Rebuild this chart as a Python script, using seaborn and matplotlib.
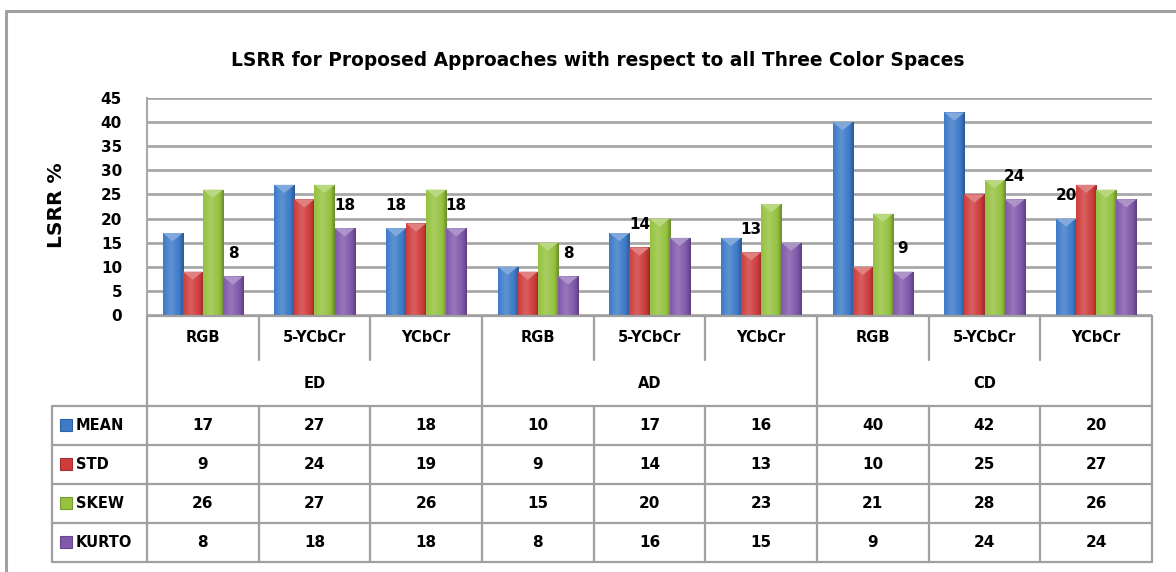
import numpy as np
import pandas as pd
import matplotlib
matplotlib.use("Agg")
import matplotlib.pyplot as plt
import seaborn as sns
from matplotlib.lines import Line2D
from matplotlib.patches import Rectangle, Polygon
import matplotlib.colors as mcolors

# ---------------- data ----------------
title = "LSRR for Proposed Approaches with respect to all Three Color Spaces"
ylabel = "LSRR %"
groups = ["ED", "AD", "CD"]
spaces = ["RGB", "5-YCbCr", "YCbCr"]
series = ["MEAN", "STD", "SKEW", "KURTO"]
mean = [17, 27, 18, 10, 17, 16, 40, 42, 20]
std = [9, 24, 19, 9, 14, 13, 10, 25, 27]
skew = [26, 27, 26, 15, 20, 23, 21, 28, 26]
kurto = [8, 18, 18, 8, 16, 15, 9, 24, 24]
yticks = [0, 5, 10, 15, 20, 25, 30, 35, 40, 45]
# (series, category index) pairs that carry a data label in the original
labeled = [("KURTO", 0), ("KURTO", 1), ("MEAN", 2), ("KURTO", 2), ("KURTO", 3),
           ("STD", 4), ("STD", 5), ("KURTO", 6), ("KURTO", 7), ("MEAN", 8)]
colors = ["#3D7AC8", "#CF3C3C", "#95C23F", "#8059AA"]

values = {"MEAN": mean, "STD": std, "SKEW": skew, "KURTO": kurto}
cats = [f"{g}|{s}" for g in groups for s in spaces]
rows = []
for s in series:
    for c, v in zip(cats, values[s]):
        rows.append({"cat": c, "series": s, "value": v})
df = pd.DataFrame(rows)

# ---------------- figure ----------------
sns.set_theme(style="white")
plt.rcParams["font.family"] = ["DejaVu Sans"]
plt.rcParams["font.weight"] = "bold"
plt.rcParams["text.color"] = "black"
plt.rcParams["ytick.color"] = "black"
plt.rcParams["axes.labelcolor"] = "black"

W, H = 1176, 572
fig = plt.figure(figsize=(W / 100, H / 100), dpi=100)
fig.patch.set_facecolor("white")

ax_left, ax_right, ax_top, ax_bot = 147, 1152, 98, 315
ax = fig.add_axes([ax_left / W, 1 - ax_bot / H, (ax_right - ax_left) / W, (ax_bot - ax_top) / H])
ax.set_facecolor("none")

sns.barplot(data=df, x="cat", y="value", hue="series", order=cats, hue_order=series,
            palette=colors, width=0.72, gap=0, saturation=1, legend=False, ax=ax,
            edgecolor="none", linewidth=0, zorder=3)
ax.set_xlim(-0.5, len(cats) - 0.5)
ax.set_ylim(0, 45)
ax.set_yticks(yticks)
ax.set_yticklabels([str(t) for t in yticks], fontsize=11, fontweight="bold", color="black")
ax.tick_params(axis="y", length=0, pad=18, colors="black")
ax.set_xticks([])
ax.set_xlabel("")
ax.set_ylabel("")
ax.yaxis.grid(True, color="#A8A8A8", linewidth=2.0, zorder=0)
ax.set_axisbelow(True)
for sp in ["top", "right", "bottom"]:
    ax.spines[sp].set_visible(False)
ax.spines["left"].set_color("#A8A8A8")
ax.spines["left"].set_linewidth(1.5)

# bar shading: horizontal gradient + bevelled top
def shade(c, f):
    r = np.array(mcolors.to_rgb(c))
    if f >= 0:
        return r + (1 - r) * f
    return r * (1 + f)

for si, cont in enumerate(ax.containers):
    base = colors[si]
    t = np.linspace(0, 1, 40)
    prof = 0.28 * (1 - np.abs(t - 0.38) / 0.62) - 0.18 * (t > 0.8) * (t - 0.8) / 0.2 - 0.1
    grad = np.array([shade(base, f) for f in prof])[None, :, :]
    for bar in cont:
        x0, w, h = bar.get_x(), bar.get_width(), bar.get_height()
        im = ax.imshow(grad, extent=(x0, x0 + w, 0, h), aspect="auto", zorder=3.5,
                       interpolation="bilinear")
        im.set_clip_path(bar)
        d = min(1.7, h * 0.5)
        tri = Polygon([(x0, h), (x0 + w, h), (x0 + w / 2, h - d)], closed=True,
                      facecolor=shade(base, 0.35), edgecolor="none", zorder=3.6)
        ax.add_patch(tri)
ax.set_xlim(-0.5, len(cats) - 0.5)
ax.set_ylim(0, 45)

# data labels
for s, ci in labeled:
    bar = ax.containers[series.index(s)][ci]
    xc = bar.get_x() + bar.get_width() / 2
    ax.annotate(str(values[s][ci]), (xc, bar.get_height()), xytext=(0, 16.5),
                textcoords="offset points", ha="center", va="center",
                fontsize=11, fontweight="bold", color="black", zorder=5)

# ---------------- overlay (frame, title, data table) ----------------
ov = fig.add_axes([0, 0, 1, 1])
ov.set_xlim(0, W)
ov.set_ylim(H, 0)
ov.axis("off")
ov.patch.set_alpha(0)

ov.text(57, 205, ylabel, rotation=90, ha="center", va="center",
        fontsize=14.5, fontweight="bold", color="black")

def col_x(i):
    # pixel x of category boundary i (between category i-1 and i)
    disp = ax.transData.transform((i - 0.5, 0))
    return ov.transData.inverted().transform(disp)[0]

gray = "#A0A0A0"
# outer frame
ov.add_line(Line2D([6, W + 5], [11, 11], color=gray, lw=2.2))
ov.add_line(Line2D([6, 6], [11, H + 5], color=gray, lw=2.2))

ov.text(598, 60, title, ha="center", va="center", fontsize=13.4, fontweight="bold", color="black")

y_axis, y_cat, y_sep, y_grp, y_tab = 316, 338, 360, 383, 406
row_lines = [445, 484, 523, 562]
x_leg = 52
ncat = len(cats)
xs = [col_x(i) for i in range(ncat + 1)]

ov.add_line(Line2D([xs[0], xs[-1]], [y_axis, y_axis], color=gray, lw=1.6))
for i, x in enumerate(xs):
    if i % 3 == 0:
        ov.add_line(Line2D([x, x], [y_axis, row_lines[-1]], color=gray, lw=1.6))
    else:
        ov.add_line(Line2D([x, x], [y_axis, y_sep], color=gray, lw=1.6))
        ov.add_line(Line2D([x, x], [y_tab, row_lines[-1]], color=gray, lw=1.6))
ov.add_line(Line2D([x_leg, x_leg], [y_tab, row_lines[-1]], color=gray, lw=1.6))
for y in [y_tab] + row_lines:
    ov.add_line(Line2D([x_leg, xs[-1]], [y, y], color=gray, lw=1.6))

for i in range(ncat):
    xc = (xs[i] + xs[i + 1]) / 2
    ov.text(xc, y_cat, spaces[i % 3], ha="center", va="center", fontsize=10.5,
            fontweight="bold", color="black")
for gi, g in enumerate(groups):
    xc = (xs[gi * 3 + 1] + xs[gi * 3 + 2]) / 2
    ov.text(xc, y_grp, g, ha="center", va="center", fontsize=10.5, fontweight="bold", color="black")

row_tops = [y_tab] + row_lines[:-1]
for ri, s in enumerate(series):
    yc = (row_tops[ri] + row_lines[ri]) / 2
    ov.add_patch(Rectangle((60, yc - 6.5), 12, 12, facecolor=colors[ri],
                           edgecolor=shade(colors[ri], -0.2), lw=0.8))
    ov.text(76, yc, s, ha="left", va="center", fontsize=10.5, fontweight="bold", color="black")
    for i in range(ncat):
        xc = (xs[i] + xs[i + 1]) / 2
        ov.text(xc, yc, str(values[s][i]), ha="center", va="center", fontsize=11,
                fontweight="bold", color="black")

fig.savefig("out.png", dpi=100, facecolor="white")
